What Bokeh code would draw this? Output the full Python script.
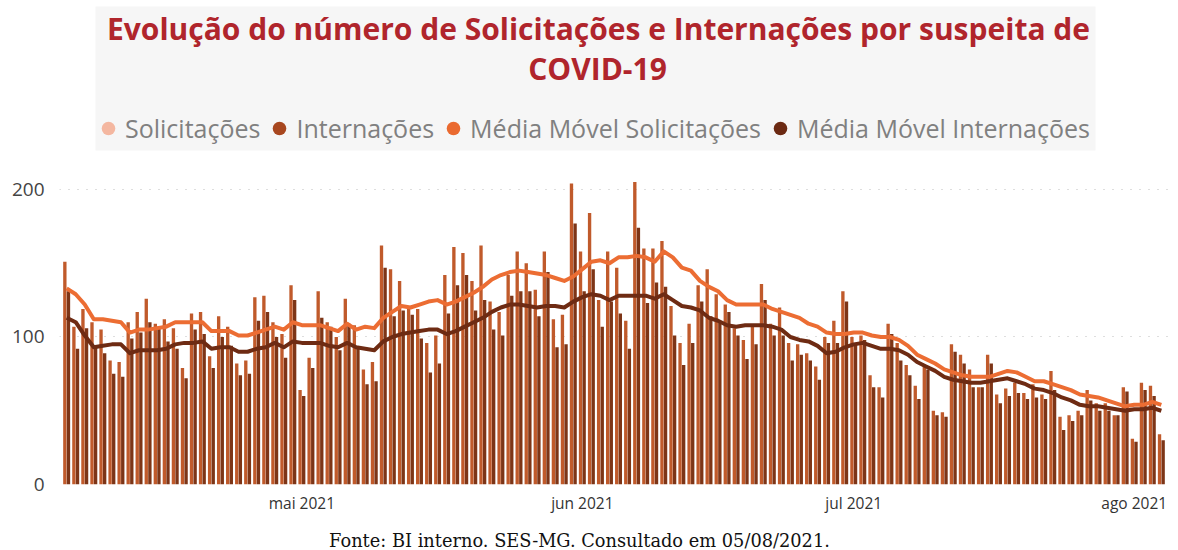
import pandas as pd
from bokeh.plotting import figure
from bokeh.layouts import column
from bokeh.models import (ColumnDataSource, Range1d, FixedTicker, Legend,
                          LegendItem, Label, BoxAnnotation)
from bokeh.transform import dodge
from bokeh.embed import file_html
from bokeh.resources import INLINE

# ---------------- data ----------------
start_date = "2021-04-05"

solicitacoes = [
    151, 107, 119, 110, 105, 84, 83, 110, 117, 126, 109, 112, 106, 79, 116, 117, 87, 114, 107, 82, 84,
    127, 128, 110, 102, 135, 64, 86, 131, 110, 100, 126, 108, 78, 83, 162, 146, 138, 119, 119, 96, 101,
    142, 161, 157, 138, 162, 124, 117, 142, 158, 150, 132, 158, 112, 115, 204, 158, 184, 125, 158, 147, 111,
    205, 160, 160, 165, 121, 96, 109, 135, 146, 129, 122, 106, 98, 107, 136, 109, 120, 96, 95, 89, 80,
    100, 111, 131, 100, 101, 74, 66, 109, 96, 81, 67, 81, 50, 49, 95, 88, 78, 66, 88, 61, 65,
    69, 62, 68, 61, 77, 46, 47, 50, 64, 55, 55, 47, 66, 31, 69, 67, 34,
]
internacoes = [
    131, 92, 106, 93, 89, 75, 73, 99, 103, 110, 107, 97, 92, 72, 105, 102, 79, 100, 94, 74, 75,
    111, 117, 100, 86, 125, 60, 79, 113, 107, 91, 109, 93, 68, 70, 147, 114, 118, 115, 99, 76, 82,
    116, 135, 142, 118, 125, 105, 101, 128, 131, 131, 114, 144, 93, 95, 177, 131, 146, 107, 124, 116, 92,
    174, 123, 137, 134, 101, 81, 96, 124, 114, 110, 117, 101, 85, 95, 125, 101, 101, 84, 88, 84, 71,
    96, 96, 124, 96, 98, 66, 59, 102, 84, 74, 58, 78, 47, 46, 90, 82, 66, 66, 82, 55, 60,
    62, 58, 59, 58, 64, 37, 43, 47, 57, 50, 50, 47, 63, 29, 64, 60, 30,
]
mm_solicitacoes = [
    133, 129, 122, 112, 112, 111, 110, 103, 105, 105, 106, 107, 110, 110, 110, 110, 104, 104, 104, 101, 101,
    103, 105, 107, 105, 110, 108, 108, 108, 106, 104, 109, 105, 107, 106, 113, 117, 121, 120, 122, 124, 125,
    122, 124, 127, 130, 134, 139, 142, 144, 145, 144, 143, 142, 140, 138, 141, 146, 151, 152, 150, 154, 154,
    155, 154, 151, 158, 154, 147, 145, 138, 134, 131, 125, 122, 122, 122, 122, 119, 117, 115, 113, 109, 107,
    103, 102, 102, 103, 103, 101, 100, 100, 98, 94, 88, 85, 82, 78, 76, 74, 73, 73, 73, 75, 77,
    76, 73, 70, 70, 68, 66, 64, 61, 60, 59, 57, 55, 53, 54, 54, 56, 54,
]
mm_internacoes = [
    113, 110, 101, 93, 94, 95, 95, 89, 91, 91, 91, 92, 95, 96, 96, 97, 92, 93, 93, 90, 90,
    92, 93, 96, 93, 97, 96, 96, 96, 94, 93, 96, 93, 92, 91, 97, 100, 102, 103, 104, 105, 105,
    102, 104, 107, 110, 113, 117, 120, 122, 122, 121, 120, 121, 121, 120, 124, 127, 129, 128, 125, 128, 128,
    128, 128, 126, 129, 125, 121, 120, 118, 113, 111, 108, 107, 108, 108, 108, 107, 105, 100, 98, 97, 94,
    89, 90, 93, 95, 96, 94, 92, 92, 91, 88, 83, 80, 77, 73, 71, 70, 69, 69, 70, 71, 72,
    70, 68, 65, 64, 62, 59, 57, 54, 53, 53, 52, 51, 50, 51, 51, 52, 50,
]

series_names = ["Solicitações", "Internações", "Média Móvel Solicitações", "Média Móvel Internações"]
legend_colors = ["#f4b7a0", "#a8471f", "#ea6a30", "#6b2912"]
tick_dates = ["2021-05-01", "2021-06-01", "2021-07-01", "2021-08-01"]
tick_labels = ["mai 2021", "jun 2021", "jul 2021", "ago 2021"]
y_ticks = [0, 100, 200]

title_line1 = "Evolução do número de Solicitações e Internações por suspeita de"
title_line2 = "COVID-19"
footer_text = "Fonte: BI interno. SES-MG. Consultado em 05/08/2021."

TITLE_COLOR = "#b0252c"
W = 1176
HEADER_H = 166
MAIN_H = 350
FOOTER_H = 34
FRAME_LEFT = 59   # the column aligns every frame to the main chart's frame


def bare(fig):
    fig.title.visible = False
    fig.grid.visible = False
    fig.outline_line_color = None
    return fig


# ---------------- header: title + legend ----------------
h = bare(figure(width=W, height=HEADER_H, output_backend="svg", toolbar_location=None,
                x_range=Range1d(0, 1), y_range=Range1d(0, 1),
                x_axis_location=None, y_axis_location=None,
                min_border_left=0, min_border_right=0, min_border_top=0,
                min_border_bottom=0))

h.add_layout(BoxAnnotation(left=95 - FRAME_LEFT, right=1095 - FRAME_LEFT, bottom=16, top=160,
                           left_units="screen", right_units="screen",
                           bottom_units="screen", top_units="screen",
                           fill_color="#f6f6f6", fill_alpha=1, line_color=None,
                           level="underlay"))

for txt, xpos, ypos in ((title_line1, 598, HEADER_H - 28), (title_line2, 597, HEADER_H - 68)):
    h.add_layout(Label(x=xpos - FRAME_LEFT, y=ypos, x_units="screen", y_units="screen",
                       text=txt, text_align="center", text_baseline="middle",
                       text_font="Open Sans", text_font_size="30px",
                       text_font_style="bold", text_color=TITLE_COLOR))

items = []
for name, col in zip(series_names, legend_colors):
    # one swatch point kept outside the visible range: only its legend glyph shows
    r = h.scatter(x=[-5], y=[-5], marker="circle", size=14, fill_color=col, line_color=None)
    items.append(LegendItem(label=name, renderers=[r]))

legend = Legend(items=items, orientation="horizontal", location=(91 - FRAME_LEFT, 21),
                glyph_width=34, glyph_height=34, label_standoff=0, spacing=2,
                padding=0, margin=0, border_line_color=None,
                background_fill_alpha=0, label_text_font="Open Sans",
                label_text_font_size="25px", label_text_color="#808080")
h.add_layout(legend, "center")

# ---------------- main chart ----------------
dates = pd.date_range(start_date, periods=len(solicitacoes), freq="D")
src = ColumnDataSource(dict(date=dates, sol=solicitacoes, inte=internacoes,
                            mms=mm_solicitacoes, mmi=mm_internacoes))

DAY = 86400000.0
x_start = dates[0] - pd.Timedelta(hours=19)
x_end = dates[-1] + pd.Timedelta(hours=19)

p = figure(width=W, height=MAIN_H, output_backend="svg", toolbar_location=None,
           x_axis_type="datetime",
           x_range=Range1d(x_start, x_end), y_range=Range1d(0, 214.9),
           min_border_left=FRAME_LEFT, min_border_right=8, min_border_top=1,
           min_border_bottom=31)
p.title.visible = False
p.outline_line_color = None

p.vbar(x=dodge("date", -0.2 * DAY, range=p.x_range), top="sol", width=0.37 * DAY,
       bottom=0, source=src, fill_color="#c05a2b", line_color=None)
p.vbar(x=dodge("date", 0.2 * DAY, range=p.x_range), top="inte", width=0.37 * DAY,
       bottom=0, source=src, fill_color="#7d3517", line_color=None)
p.line(x="date", y="mms", source=src, line_color="#ec6d33", line_width=4,
       line_join="round")
p.line(x="date", y="mmi", source=src, line_color="#6e2b13", line_width=4,
       line_join="round")

tick_ms = [float(pd.Timestamp(d).value // 10**6) for d in tick_dates]
p.xaxis.ticker = FixedTicker(ticks=tick_ms)
p.xaxis.major_label_overrides = {t: lab for t, lab in zip(tick_ms, tick_labels)}
p.yaxis.ticker = FixedTicker(ticks=y_ticks)
for ax in (p.xaxis, p.yaxis):
    ax.axis_line_color = None
    ax.major_tick_line_color = None
    ax.minor_tick_line_color = None
    ax.major_label_text_font = "Open Sans"
p.xaxis.major_label_text_font_size = "15.5px"
p.xaxis.major_label_text_color = "#333333"
p.xaxis.major_label_standoff = 1
p.yaxis.major_label_text_font_size = "19px"
p.yaxis.major_label_text_color = "#444444"
p.yaxis.major_label_standoff = 9

p.xgrid.grid_line_color = None
p.ygrid.grid_line_color = "#bdbdbd"
p.ygrid.grid_line_dash = "1 8"
p.ygrid.grid_line_width = 1

# ---------------- footer (source note) ----------------
f = bare(figure(width=W, height=FOOTER_H, output_backend="svg", toolbar_location=None,
                x_range=Range1d(0, 1), y_range=Range1d(0, 1),
                x_axis_location=None, y_axis_location=None,
                min_border_left=0, min_border_right=0, min_border_top=0,
                min_border_bottom=0))
f.add_layout(Label(x=579 - FRAME_LEFT, y=10, x_units="screen", y_units="screen",
                   text=footer_text, text_align="center", text_baseline="middle",
                   text_font="DejaVu Serif", text_font_size="17.8px",
                   text_color="#111111"))

layout = column(h, p, f, spacing=0)
open("out.html", "w").write(file_html(layout, INLINE))
